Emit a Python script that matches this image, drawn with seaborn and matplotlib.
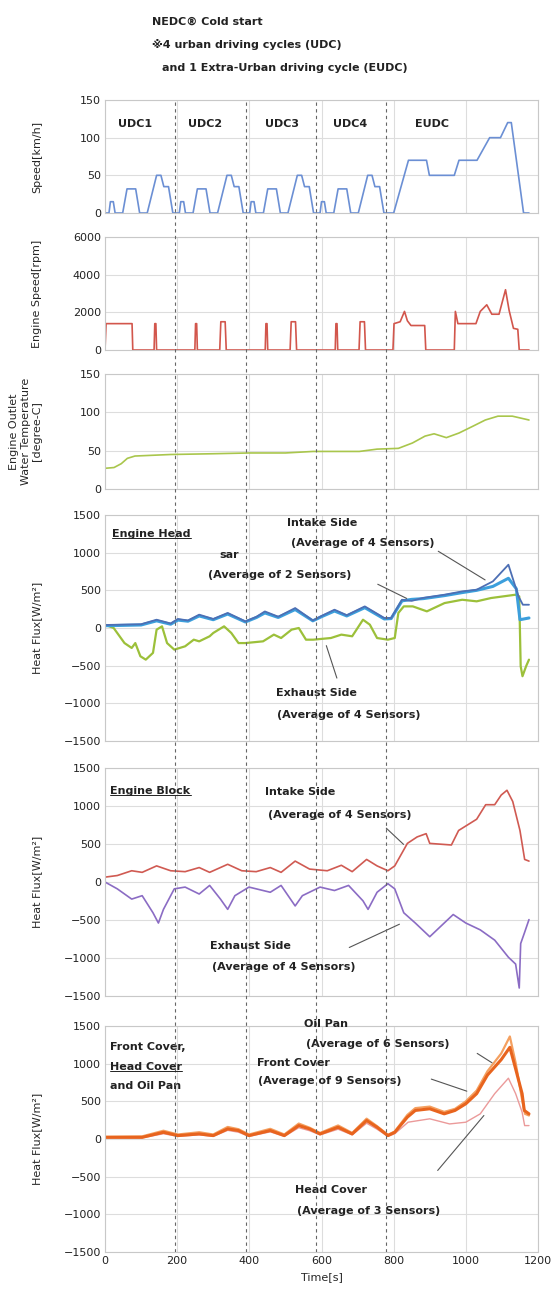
import numpy as np
import pandas as pd
import matplotlib
matplotlib.use("Agg")
from matplotlib import pyplot as plt
import seaborn as sns

# ---------------- data ----------------
cycle_bounds = [195, 390, 585, 780]
udc_starts = [0, 195, 390, 585]
eudc_start = 780

# vehicle speed [km/h]: one urban cycle, repeated 4 times, then the extra-urban cycle
udc_t = [0, 11, 15, 23, 28, 49, 61, 85, 96, 117, 143, 155, 163, 176, 188, 195]
udc_v = [0, 0, 15, 15, 0, 0, 32, 32, 0, 0, 50, 50, 35, 35, 0, 0]
eudc_t = [0, 20, 61, 111, 119, 188, 201, 251, 286, 316, 336, 346, 380, 395]
eudc_v = [0, 0, 70, 70, 50, 50, 70, 70, 100, 100, 120, 120, 0, 0]
cycle_labels = ["UDC1", "UDC2", "UDC3", "UDC4", "EUDC"]
cycle_label_x = [84, 276, 490, 680, 905]

# engine speed [rpm]
eng_t = [0, 3, 75, 77, 136, 138, 141, 143, 249, 251, 254, 256, 318, 321, 333, 336,
         444, 446, 449, 451, 513, 516, 528, 531, 638, 640, 643, 645, 704, 707, 719, 722,
         798, 801, 818, 830, 838, 848, 886, 889, 968, 971, 978, 1028, 1040, 1058, 1072,
         1092, 1110, 1120, 1132, 1144, 1148, 1175]
eng_v = [0, 1400, 1400, 0, 0, 1400, 1400, 0, 0, 1400, 1400, 0, 0, 1500, 1500, 0,
         0, 1400, 1400, 0, 0, 1500, 1500, 0, 0, 1400, 1400, 0, 0, 1500, 1500, 0,
         0, 1400, 1500, 2050, 1550, 1300, 1300, 0, 0, 2050, 1400, 1400, 2050, 2400, 1900,
         1900, 3200, 2100, 1150, 1100, 0, 0]

# engine outlet water temperature [degree-C]
temp_t = [0, 25, 45, 62, 83, 182, 300, 400, 500, 577, 705, 754, 813, 852, 887, 912,
          946, 981, 1020, 1054, 1089, 1129, 1175]
temp_v = [27, 28, 33, 40, 43, 45, 46, 47, 47, 49, 49, 52, 53, 60, 69, 72,
          67, 73, 82, 90, 95, 95, 90]

# engine head heat flux [W/m2]
head_in_t = [0, 100, 143, 182, 202, 230, 261, 300, 340, 389, 420, 443, 480, 527, 576,
             600, 636, 670, 720, 774, 793, 823, 850, 882, 941, 990, 1030, 1075, 1118,
             1146, 1158, 1175]
head_in_v = [40, 50, 110, 60, 120, 100, 177, 120, 200, 88, 150, 220, 150, 265, 100,
             160, 243, 170, 287, 133, 133, 375, 360, 400, 442, 486, 508, 619, 840,
             420, 309, 309]
head_sar_t = [0, 100, 143, 182, 202, 230, 261, 300, 340, 389, 420, 443, 480, 527, 576,
              600, 636, 670, 720, 774, 793, 823, 850, 882, 941, 990, 1030, 1075, 1118,
              1140, 1150, 1175]
head_sar_v = [30, 40, 95, 50, 105, 90, 160, 110, 185, 80, 140, 200, 140, 245, 95,
              150, 225, 160, 270, 120, 125, 360, 380, 390, 430, 470, 500, 552, 660,
              520, 110, 133]
head_ex_t = [0, 24, 54, 74, 84, 98, 113, 123, 133, 143, 158, 172, 192, 222, 246, 261,
             290, 300, 330, 350, 370, 389, 438, 468, 488, 517, 537, 557, 577, 626, 655,
             685, 715, 734, 754, 784, 803, 813, 828, 853, 892, 941, 990, 1030, 1070,
             1138, 1148, 1152, 1157, 1167, 1175]
head_ex_v = [44, 0, -200, -265, -200, -375, -420, -375, -330, -22, 22, -200, -287,
             -243, -155, -177, -110, -66, 22, -66, -200, -200, -177, -88, -133, -22, 0,
             -155, -155, -133, -88, -110, 110, 44, -133, -155, -133, 200, 287, 287,
             221, 331, 375, 354, 398, 442, 420, -508, -640, -508, -420]

# engine block heat flux [W/m2]
blk_in_t = [0, 34, 74, 103, 143, 182, 222, 261, 290, 340, 379, 419, 458, 488, 527,
            567, 616, 655, 685, 725, 754, 784, 803, 838, 865, 890, 900, 960, 980, 1030,
            1055, 1080, 1098, 1114, 1130, 1150, 1163, 1175]
blk_in_v = [64, 85, 148, 127, 212, 148, 136, 190, 127, 233, 148, 136, 190, 127, 275,
            170, 148, 220, 136, 297, 212, 148, 212, 508, 593, 636, 508, 487, 678, 826,
            1017, 1017, 1144, 1207, 1059, 678, 297, 275]
blk_ex_t = [0, 34, 74, 103, 133, 148, 162, 192, 222, 261, 290, 320, 340, 360, 399,
            458, 488, 527, 547, 596, 636, 675, 715, 729, 754, 784, 803, 828, 860, 900,
            930, 965, 1000, 1040, 1080, 1118, 1138, 1148, 1152, 1162, 1175]
blk_ex_v = [0, -90, -225, -180, -405, -540, -360, -90, -67, -158, -45, -225, -360,
            -180, -67, -135, -45, -315, -180, -67, -112, -45, -248, -360, -135, -22,
            -90, -405, -540, -720, -585, -428, -540, -630, -765, -990, -1080, -1395,
            -810, -675, -495]

# front cover / oil pan / head cover heat flux [W/m2]
fc_t = [0, 103, 162, 202, 261, 300, 340, 370, 399, 458, 497, 537, 567, 596, 646,
        685, 725, 754, 784, 803, 838, 860, 900, 940, 970, 1000, 1030, 1060, 1098,
        1122, 1138, 1156, 1162, 1175]
fc_v = [22, 22, 89, 45, 67, 45, 134, 112, 45, 112, 45, 178, 134, 67, 156, 67, 245,
        156, 45, 89, 290, 379, 401, 334, 379, 468, 602, 849, 1053, 1217, 930, 602,
        379, 334]
op_t = [0, 103, 162, 202, 261, 300, 340, 370, 399, 458, 497, 537, 567, 596, 646,
        685, 725, 754, 784, 803, 838, 860, 900, 940, 970, 1000, 1030, 1060, 1098,
        1122, 1138, 1156, 1164, 1175]
op_v = [30, 35, 110, 60, 90, 60, 160, 130, 60, 135, 60, 205, 150, 80, 180, 80, 270,
        170, 55, 100, 320, 410, 430, 360, 400, 500, 643, 900, 1135, 1361, 1012, 520,
        334, 312]
hc_t = [0, 103, 162, 202, 261, 300, 340, 370, 399, 458, 497, 537, 567, 596, 646,
        685, 725, 754, 784, 803, 840, 900, 955, 1000, 1040, 1080, 1118, 1138, 1156,
        1163, 1175]
hc_v = [15, 15, 70, 35, 55, 35, 115, 90, 35, 95, 35, 150, 110, 55, 130, 55, 210,
        130, 35, 70, 223, 268, 200, 223, 334, 602, 807, 602, 356, 178, 178]

# ---------------- build tables ----------------
speed_t, speed_v = [], []
for s in udc_starts:
    speed_t += [s + t for t in udc_t]
    speed_v += udc_v
speed_t += [eudc_start + t for t in eudc_t]
speed_v += eudc_v

speed = pd.DataFrame({"t": speed_t, "v": speed_v})
engine = pd.DataFrame({"t": eng_t, "v": eng_v})
temp = pd.DataFrame({"t": temp_t, "v": temp_v})

# ---------------- figure ----------------
sns.set_theme(style="whitegrid")
plt.rcParams["font.family"] = ["DejaVu Sans", "Noto Sans CJK JP"]
plt.rcParams["axes.edgecolor"] = "#c8c8c8"
plt.rcParams["grid.color"] = "#dddddd"
plt.rcParams["grid.linewidth"] = 0.8

W, H = 558, 1293
fig = plt.figure(figsize=(W / 100, H / 100), dpi=100)
fig.patch.set_facecolor("white")

left, right = 105, 538
panels = [(100, 213), (237, 350), (374, 489), (515, 741), (768, 996), (1026, 1252)]
axes = []
for top, bot in panels:
    ax = fig.add_axes([left / W, 1 - bot / H, (right - left) / W, (bot - top) / H])
    axes.append(ax)

kw = dict(estimator=None, sort=False, legend=False)
txt = dict(fontsize=8, fontweight="bold", color="#222222")
lead = dict(arrowstyle="-", color="#555555", lw=0.8)
underlined = []

# 1 speed
ax = axes[0]
sns.lineplot(data=speed, x="t", y="v", ax=ax, color="#6b8fd4", lw=1.2, **kw)
ax.set_ylim(0, 150)
ax.set_yticks([0, 50, 100, 150])
ax.set_ylabel("Speed[km/h]")
for lab, lx in zip(cycle_labels, cycle_label_x):
    ax.text(lx, 118, lab, ha="center", va="center", **txt)

# 2 engine speed
ax = axes[1]
sns.lineplot(data=engine, x="t", y="v", ax=ax, color="#d2564c", lw=1.2, **kw)
ax.set_ylim(0, 6000)
ax.set_yticks([0, 2000, 4000, 6000])
ax.set_ylabel("Engine Speed[rpm]")

# 3 water temperature
ax = axes[2]
sns.lineplot(data=temp, x="t", y="v", ax=ax, color="#a9c64c", lw=1.2, **kw)
ax.set_ylim(0, 150)
ax.set_yticks([0, 50, 100, 150])
ax.set_ylabel("Engine Outlet\nWater Temperature\n[degree-C]")

# 4 engine head
ax = axes[3]
sns.lineplot(x=head_ex_t, y=head_ex_v, ax=ax, color="#9cc03a", lw=1.6, **kw)
sns.lineplot(x=head_sar_t, y=head_sar_v, ax=ax, color="#3c9fdc", lw=2.2, **kw)
sns.lineplot(x=head_in_t, y=head_in_v, ax=ax, color="#4d6fb4", lw=1.3, **kw)
underlined.append(ax.text(20, 1250, "Engine Head", ha="left", va="center", **txt))
ax.text(505, 1390, "Intake Side", ha="left", va="center", **txt)
ax.text(515, 1127, "(Average of 4 Sensors)", ha="left", va="center", **txt)
ax.text(318, 972, "sar", ha="left", va="center", **txt)
ax.text(285, 707, "(Average of 2 Sensors)", ha="left", va="center", **txt)
ax.annotate("", xy=(843, 376), xytext=(749, 597), arrowprops=lead)
ax.annotate("", xy=(1060, 619), xytext=(917, 1038), arrowprops=lead)
ax.text(473, -860, "Exhaust Side", ha="left", va="center", **txt)
ax.text(478, -1155, "(Average of 4 Sensors)", ha="left", va="center", **txt)
ax.annotate("", xy=(611, -199), xytext=(645, -700), arrowprops=lead)

# 5 engine block
ax = axes[4]
sns.lineplot(x=blk_in_t, y=blk_in_v, ax=ax, color="#d05a52", lw=1.2, **kw)
sns.lineplot(x=blk_ex_t, y=blk_ex_v, ax=ax, color="#8b6cc4", lw=1.2, **kw)
underlined.append(ax.text(15, 1200, "Engine Block", ha="left", va="center", **txt))
ax.text(443, 1180, "Intake Side", ha="left", va="center", **txt)
ax.text(453, 888, "(Average of 4 Sensors)", ha="left", va="center", **txt)
ax.annotate("", xy=(833, 470), xytext=(774, 733), arrowprops=lead)
ax.text(290, -842, "Exhaust Side", ha="left", va="center", **txt)
ax.text(296, -1118, "(Average of 4 Sensors)", ha="left", va="center", **txt)
ax.annotate("", xy=(823, -540), xytext=(670, -877), arrowprops=lead)

# 6 covers
ax = axes[5]
sns.lineplot(x=hc_t, y=hc_v, ax=ax, color="#eb9a9a", lw=1.0, **kw)
sns.lineplot(x=op_t, y=op_v, ax=ax, color="#f4a060", lw=1.6, **kw)
sns.lineplot(x=fc_t, y=fc_v, ax=ax, color="#e8641e", lw=2.2, **kw)
ax.text(15, 1215, "Front Cover,", ha="left", va="center", **txt)
underlined.append(ax.text(15, 960, "Head Cover", ha="left", va="center", **txt))
ax.text(15, 705, "and Oil Pan", ha="left", va="center", **txt)
ax.text(552, 1530, "Oil Pan", ha="left", va="center", clip_on=False, **txt)
ax.text(557, 1260, "(Average of 6 Sensors)", ha="left", va="center", **txt)
ax.text(420, 1010, "Front Cover", ha="left", va="center", **txt)
ax.text(424, 766, "(Average of 9 Sensors)", ha="left", va="center", **txt)
ax.annotate("", xy=(1079, 992), xytext=(1025, 1156), arrowprops=lead)
ax.annotate("", xy=(1010, 623), xytext=(897, 807), arrowprops=lead)
ax.text(527, -680, "Head Cover", ha="left", va="center", **txt)
ax.text(532, -959, "(Average of 3 Sensors)", ha="left", va="center", **txt)
ax.annotate("", xy=(1055, 340), xytext=(917, -446), arrowprops=lead)

for i, ax in enumerate(axes):
    ax.set_xlim(0, 1200)
    ax.set_xticks(range(0, 1201, 200))
    if i >= 3:
        ax.set_ylim(-1500, 1500)
        ax.set_yticks(range(-1500, 1501, 500))
        ax.set_ylabel("Heat Flux[W/m\u00b2]")
    if i < 5:
        ax.tick_params(axis="x", labelbottom=False)
        ax.set_xlabel("")
    else:
        ax.set_xlabel("Time[s]", fontsize=8)
    ax.tick_params(axis="both", labelsize=8, length=0, pad=3, labelcolor="#222222")
    ax.yaxis.label.set_size(8)
    ax.yaxis.set_label_coords(-0.145, 0.5)
    for sp in ax.spines.values():
        sp.set_linewidth(0.8)

# cycle boundaries running through all panels
over = fig.add_axes([left / W, 1 - 1252 / H, (right - left) / W, (1252 - 100) / H])
over.set_xlim(0, 1200)
over.set_ylim(0, 1)
over.axis("off")
over.patch.set_alpha(0)
for b in cycle_bounds:
    over.axvline(b, color="#666666", lw=0.8, ls=(0, (3, 3)))

# heading
hd = dict(fontsize=8, fontweight="bold", color="#222222", ha="left", va="center")
fig.text(152 / W, 1 - 22 / H, "NEDC\u00ae Cold start", **hd)
fig.text(152 / W, 1 - 45 / H, "\u203b4 urban driving cycles (UDC)", **hd)
fig.text(162 / W, 1 - 68 / H, "and 1 Extra-Urban driving cycle (EUDC)", **hd)

# underline the panel titles
fig.canvas.draw()
inv = fig.transFigure.inverted()
for t in underlined:
    bb = t.get_window_extent().transformed(inv)
    fig.add_artist(plt.Line2D([bb.x0, bb.x1], [bb.y0 + 0.0005, bb.y0 + 0.0005],
                              color="#222222", lw=0.7))

fig.savefig("out.png", dpi=100)
